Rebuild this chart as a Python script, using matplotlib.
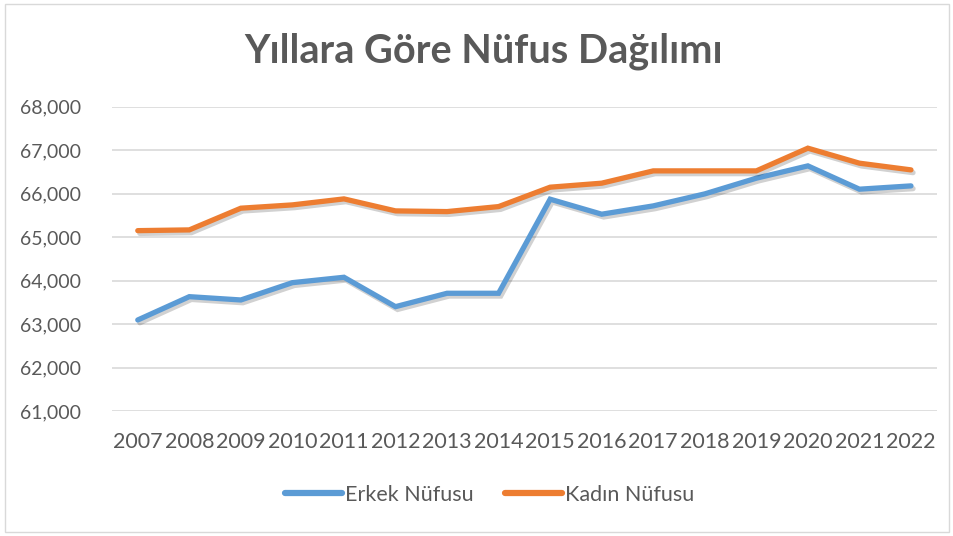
import matplotlib
matplotlib.use("Agg")
import matplotlib.pyplot as plt
import matplotlib.patheffects as pe
from matplotlib.patches import Rectangle
from matplotlib.lines import Line2D
from matplotlib.ticker import FuncFormatter

years = ["2007", "2008", "2009", "2010", "2011", "2012", "2013", "2014",
         "2015", "2016", "2017", "2018", "2019", "2020", "2021", "2022"]
erkek = [63093, 63629, 63553, 63951, 64075, 63399, 63707, 63707,
         65870, 65525, 65716, 65992, 66353, 66636, 66100, 66176]
kadin = [65147, 65164, 65663, 65739, 65877, 65601, 65585, 65700,
         66146, 66238, 66521, 66521, 66521, 67043, 66698, 66544]

plt.rcParams['font.family'] = ['Lato', 'DejaVu Sans']
text_c = '#595959'
blue, orange = '#5B9BD5', '#ED7D31'

fig = plt.figure(figsize=(9.54, 5.36), dpi=100)
ax = fig.add_axes([0.1174, 0.2332, 0.8645, 0.568])

# border round the whole chart
fig.patches.append(Rectangle((0.005, 0.008), 0.99, 0.984, transform=fig.transFigure,
                             fill=False, edgecolor='#D9D9D9', lw=1))

shadow = [pe.SimpleLineShadow(offset=(1.5, -2), alpha=0.18, shadow_color='black'), pe.Normal()]
x = list(range(len(years)))
ax.plot(x, erkek, color=blue, lw=3.8, solid_capstyle='round',
        solid_joinstyle='miter', path_effects=shadow, zorder=3)
ax.plot(x, kadin, color=orange, lw=3.8, solid_capstyle='round',
        solid_joinstyle='miter', path_effects=shadow, zorder=3)

ax.set_xlim(-0.5, len(years) - 0.5)
ax.set_ylim(61000, 68000)
ax.set_yticks(range(61000, 68001, 1000))
ax.yaxis.set_major_formatter(FuncFormatter(lambda v, p: f"{int(v):,}"))
ax.set_xticks(x)
ax.set_xticklabels(years)
ax.grid(axis='y', color='#D9D9D9', lw=1.2)
ax.set_axisbelow(True)
for s in ax.spines.values():
    s.set_visible(False)
ax.tick_params(length=0, labelcolor=text_c)
ax.tick_params(axis='x', pad=15, labelsize=15.5)
ax.tick_params(axis='y', pad=22, labelsize=14)

fig.text(0.507, 0.905, "Yıllara Göre Nüfus Dağılımı", ha='center', va='center',
         fontsize=28.5, fontweight='bold', color=text_c)

handles = [Line2D([], [], color=blue, lw=4.5, solid_capstyle='round'),
           Line2D([], [], color=orange, lw=4.5, solid_capstyle='round')]
leg = fig.legend(handles, ['Erkek Nüfusu', 'Kadın Nüfusu'], loc='center',
                 bbox_to_anchor=(0.513, 0.077), ncol=2, frameon=False,
                 fontsize=15.5, handlelength=2.65, handletextpad=0.15, columnspacing=1.45)
for t in leg.get_texts():
    t.set_color(text_c)

fig.savefig("out.png", dpi=100)
